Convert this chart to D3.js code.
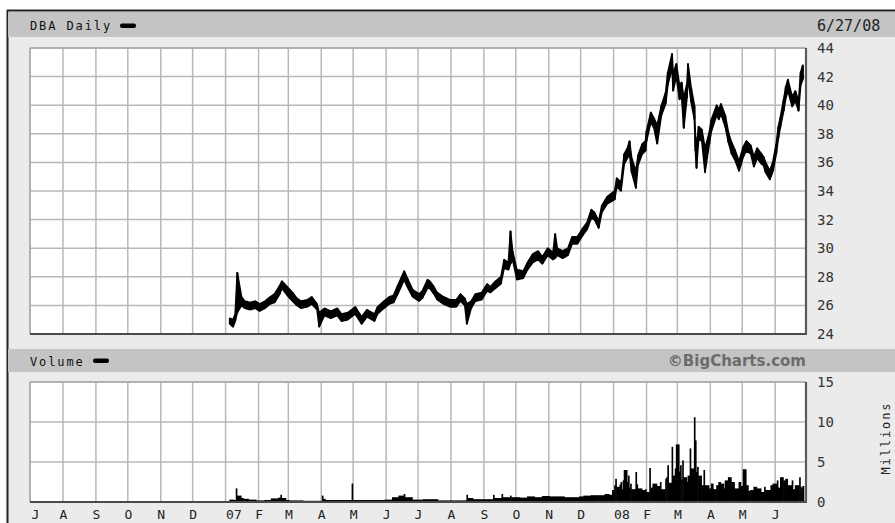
<!DOCTYPE html>
<html><head><meta charset="utf-8">
<script src="https://cdn.jsdelivr.net/npm/d3@7/dist/d3.min.js"></script>
<style>
html,body{margin:0;padding:0;background:#fff;}
svg{display:block;}
</style></head>
<body><svg id="c" width="895" height="523"></svg>
<script>
// ---------- DATA ----------
const chartTitle = "DBA Daily";
const chartDate = "6/27/08";
const volumeTitle = "Volume";
const creditText = "\u00A9BigCharts.com";
const volumeUnit = "Millions";
const monthLabels = ["J","A","S","O","N","D","07","F","M","A","M","J","J","A","S","O","N","D","08","F","M","A","M","J"];
const priceTicks = [24,26,28,30,32,34,36,38,40,42,44];
const volumeTicks = [0,5,10,15];

const priceDates = ["2007-01-05","2007-01-08","2007-01-10","2007-01-12","2007-01-16","2007-01-19","2007-01-24","2007-01-29","2007-02-02","2007-02-07","2007-02-12","2007-02-16","2007-02-21","2007-02-23","2007-02-28","2007-03-05","2007-03-09","2007-03-13","2007-03-19","2007-03-23","2007-03-28","2007-03-30","2007-04-04","2007-04-10","2007-04-16","2007-04-20","2007-04-26","2007-05-03","2007-05-09","2007-05-14","2007-05-21","2007-05-24","2007-05-30","2007-06-04","2007-06-08","2007-06-12","2007-06-15","2007-06-18","2007-06-21","2007-06-26","2007-07-02","2007-07-05","2007-07-10","2007-07-12","2007-07-16","2007-07-19","2007-07-25","2007-07-31","2007-08-06","2007-08-10","2007-08-14","2007-08-16","2007-08-20","2007-08-24","2007-08-30","2007-09-04","2007-09-07","2007-09-12","2007-09-17","2007-09-20","2007-09-24","2007-09-26","2007-09-28","2007-10-02","2007-10-08","2007-10-12","2007-10-17","2007-10-22","2007-10-26","2007-10-31","2007-11-05","2007-11-07","2007-11-09","2007-11-14","2007-11-19","2007-11-23","2007-11-28","2007-12-03","2007-12-07","2007-12-11","2007-12-14","2007-12-18","2007-12-21","2007-12-26","2008-01-02","2008-01-04","2008-01-08","2008-01-11","2008-01-14","2008-01-16","2008-01-18","2008-01-22","2008-01-24","2008-01-28","2008-01-31","2008-02-01","2008-02-05","2008-02-08","2008-02-11","2008-02-15","2008-02-19","2008-02-21","2008-02-25","2008-02-26","2008-02-29","2008-03-03","2008-03-05","2008-03-07","2008-03-10","2008-03-11","2008-03-14","2008-03-17","2008-03-18","2008-03-19","2008-03-21","2008-03-24","2008-03-27","2008-03-31","2008-04-02","2008-04-07","2008-04-09","2008-04-11","2008-04-15","2008-04-18","2008-04-21","2008-04-24","2008-04-28","2008-05-02","2008-05-05","2008-05-09","2008-05-12","2008-05-15","2008-05-19","2008-05-21","2008-05-23","2008-05-27","2008-05-30","2008-06-02","2008-06-04","2008-06-06","2008-06-09","2008-06-11","2008-06-13","2008-06-17","2008-06-20","2008-06-23","2008-06-25","2008-06-27"];
const priceLows = [24.7,24.5,24.9,25.5,26.0,25.8,25.7,25.8,25.6,25.8,26.1,26.2,26.8,27.2,26.7,26.3,26.0,25.8,25.9,26.1,25.7,24.5,25.3,25.1,25.3,24.9,25.0,25.4,24.7,25.2,24.9,25.4,25.8,26.1,26.2,26.8,27.3,27.8,27.3,26.6,26.3,26.5,27.2,27.2,26.8,26.4,26.1,25.9,25.9,26.3,26.0,24.7,25.8,26.3,26.4,27.0,26.9,27.2,27.5,28.6,28.5,28.9,29.2,27.8,27.9,28.5,29.0,29.2,28.9,29.5,29.2,29.3,29.5,29.3,29.5,30.3,30.3,30.9,31.3,32.1,32.0,31.4,32.5,33.1,33.4,34.3,34.0,35.9,36.3,36.6,35.3,34.2,35.8,36.6,36.8,37.5,38.8,38.4,37.3,39.3,40.1,41.4,42.6,41.0,42.0,40.4,40.6,38.4,40.5,41.9,40.2,39.0,36.8,35.6,37.6,37.5,35.3,37.3,38.2,39.3,39.0,39.4,38.5,37.4,36.6,36.2,35.4,36.4,36.8,36.6,35.7,36.3,35.9,35.8,35.3,34.8,35.4,36.6,37.7,38.5,39.6,40.5,41.0,39.9,40.3,39.6,41.4,41.8];
const priceHighs = [25.1,25.0,25.4,28.3,26.6,26.3,26.2,26.3,26.1,26.3,26.6,26.8,27.4,27.7,27.3,26.9,26.5,26.3,26.4,26.6,26.1,25.5,25.8,25.6,25.8,25.4,25.5,25.9,25.2,25.7,25.4,25.9,26.3,26.6,26.7,27.4,27.9,28.4,27.9,27.1,26.8,27.0,27.8,27.7,27.3,26.9,26.6,26.4,26.4,26.8,26.5,26.1,26.3,26.8,26.9,27.5,27.3,27.7,28.0,29.2,29.0,31.2,29.8,28.5,28.4,29.0,29.6,29.8,29.4,30.0,29.7,31.0,30.0,29.8,30.0,30.8,30.8,31.4,31.8,32.7,32.5,31.9,33.0,33.6,34.0,34.9,34.6,36.6,37.0,37.5,36.3,35.4,36.5,37.3,37.5,38.2,39.5,39.1,38.6,40.0,40.9,42.3,43.6,42.2,42.9,41.4,41.6,40.5,41.5,42.9,41.2,40.0,37.8,37.0,38.5,38.3,37.0,38.1,39.0,40.0,39.7,40.1,39.3,38.1,37.4,36.9,36.1,37.1,37.5,37.2,36.4,37.0,36.6,36.4,36.0,35.4,36.1,37.3,38.5,39.2,40.4,41.3,41.8,40.6,41.0,40.3,42.3,42.8];

const volumeDates = ["2007-01-05","2007-01-09","2007-01-11","2007-01-12","2007-01-16","2007-01-18","2007-01-23","2007-01-30","2007-02-07","2007-02-13","2007-02-20","2007-02-22","2007-02-23","2007-02-27","2007-03-02","2007-03-15","2007-03-29","2007-04-02","2007-04-03","2007-04-05","2007-04-20","2007-04-30","2007-05-01","2007-05-15","2007-05-31","2007-06-07","2007-06-13","2007-06-18","2007-06-19","2007-06-26","2007-07-06","2007-07-12","2007-07-20","2007-08-01","2007-08-15","2007-08-16","2007-08-17","2007-08-22","2007-09-06","2007-09-10","2007-09-11","2007-09-18","2007-09-19","2007-09-26","2007-09-27","2007-10-05","2007-10-12","2007-10-19","2007-10-26","2007-11-02","2007-11-09","2007-11-16","2007-11-23","2007-11-30","2007-12-04","2007-12-11","2007-12-18","2007-12-24","2007-12-28","2007-12-31","2008-01-02","2008-01-03","2008-01-04","2008-01-07","2008-01-08","2008-01-09","2008-01-10","2008-01-11","2008-01-14","2008-01-15","2008-01-16","2008-01-17","2008-01-18","2008-01-22","2008-01-23","2008-01-24","2008-01-28","2008-01-31","2008-02-01","2008-02-04","2008-02-05","2008-02-07","2008-02-11","2008-02-14","2008-02-15","2008-02-19","2008-02-20","2008-02-21","2008-02-22","2008-02-25","2008-02-26","2008-02-28","2008-02-29","2008-03-03","2008-03-04","2008-03-05","2008-03-06","2008-03-07","2008-03-10","2008-03-11","2008-03-13","2008-03-14","2008-03-17","2008-03-18","2008-03-19","2008-03-20","2008-03-21","2008-03-24","2008-03-26","2008-03-27","2008-03-31","2008-04-02","2008-04-04","2008-04-07","2008-04-09","2008-04-11","2008-04-14","2008-04-15","2008-04-18","2008-04-21","2008-04-24","2008-04-28","2008-04-30","2008-05-02","2008-05-05","2008-05-07","2008-05-09","2008-05-12","2008-05-15","2008-05-19","2008-05-22","2008-05-23","2008-05-28","2008-05-30","2008-06-03","2008-06-04","2008-06-06","2008-06-09","2008-06-11","2008-06-13","2008-06-17","2008-06-18","2008-06-20","2008-06-24","2008-06-25","2008-06-26","2008-06-27"];
const volumeValues = [0.3,0.25,1.7,0.8,0.5,0.4,0.3,0.2,0.25,0.45,0.55,0.9,0.5,0.25,0.2,0.15,0.15,0.8,0.4,0.25,0.25,2.3,0.25,0.25,0.3,0.6,0.8,1.0,0.6,0.3,0.35,0.35,0.2,0.2,0.2,0.9,0.5,0.35,0.35,0.9,0.5,1.0,0.6,0.8,0.6,0.55,0.7,0.6,0.75,0.7,0.7,0.6,0.6,0.7,0.8,0.85,0.85,1.0,0.9,1.5,2.1,2.9,1.9,2.2,2.5,1.6,2.7,4.0,2.5,3.3,1.8,2.3,1.6,3.75,2.2,1.7,1.5,1.6,1.25,4.25,1.8,2.3,2.0,2.5,1.6,2.9,3.1,4.6,2.4,6.9,3.3,4.2,7.2,3.8,4.6,2.8,5.2,3.1,2.5,3.3,6.7,4.2,10.6,7.7,3.75,4.4,3.3,2.1,4.0,2.1,1.7,2.3,1.6,2.1,2.5,2.3,1.7,2.7,3.1,2.5,1.7,2.5,2.0,4.1,2.1,1.4,1.5,1.9,1.7,1.25,1.9,1.5,2.1,2.3,2.7,1.8,3.1,2.7,2.9,2.1,2.7,1.6,2.1,3.1,1.9,1.7,2.0];

// ---------- LAYOUT ----------
const svg = d3.select("#c");
const parse = d3.timeParse("%Y-%m-%d");
const L = 30, R = 806;
const x = d3.scaleTime().domain([new Date(2006,6,1), new Date(2008,5,30)]).range([L, R]);
const yP = d3.scaleLinear().domain([24,44]).range([334,48]);
const yV = d3.scaleLinear().domain([0,15]).range([502,382]);
const months = d3.timeMonth.range(new Date(2006,6,1), new Date(2008,6,1));

const mono = "'DejaVu Sans Mono', monospace";
const bandCol = "#c4c4c4", bgCol = "#ebebeb", gridCol = "#b8b8b8";

svg.append("rect").attr("width",895).attr("height",523).attr("fill","#fff");
svg.append("rect").attr("x",7).attr("y",10).attr("width",890).attr("height",515).attr("fill",bgCol);
svg.append("line").attr("x1",7).attr("x2",895).attr("y1",10.5).attr("y2",10.5).attr("stroke","#222").attr("stroke-width",2);
svg.append("line").attr("x1",7.5).attr("x2",7.5).attr("y1",10).attr("y2",523).attr("stroke","#222").attr("stroke-width",2);

// header bands
svg.append("rect").attr("x",8).attr("y",12).attr("width",887).attr("height",25).attr("fill",bandCol);
svg.append("rect").attr("x",8).attr("y",349).attr("width",887).attr("height",23).attr("fill",bandCol);

function bandLabel(txt, yBase, dashX, dashY){
  svg.append("text").attr("x",30).attr("y",yBase).text(txt)
    .attr("font-family",mono).attr("font-size",12).attr("letter-spacing",1.9).attr("fill","#111");
  svg.append("rect").attr("x",dashX).attr("y",dashY).attr("width",16).attr("height",4.5).attr("rx",2).attr("fill","#000");
}
bandLabel(chartTitle, 30, 120, 23.5);
bandLabel(volumeTitle, 366, 93, 358.5);
svg.append("text").attr("x",817).attr("y",31).text(chartDate)
  .attr("font-family",mono).attr("font-size",15).attr("fill","#222");
svg.append("text").attr("x",806).attr("y",366).attr("text-anchor","end").text(creditText)
  .attr("font-family","'DejaVu Sans', sans-serif").attr("font-weight","bold").attr("font-size",15).attr("fill","#6c6c6c");

// plot panels
function panel(y0, y1, yScale, ticks){
  svg.append("rect").attr("x",L).attr("y",y0).attr("width",R-L).attr("height",y1-y0).attr("fill","#fff");
  const g = svg.append("g");
  g.selectAll("line.v").data(months).join("line")
    .attr("x1",d=>x(d)).attr("x2",d=>x(d)).attr("y1",y0).attr("y2",y1)
    .attr("stroke",gridCol).attr("stroke-width",1.5);
  g.selectAll("line.h").data(ticks).join("line")
    .attr("x1",L).attr("x2",R).attr("y1",d=>yScale(d)).attr("y2",d=>yScale(d))
    .attr("stroke",gridCol).attr("stroke-width",1.5);
  // light top/left edges, dark bottom/right edges
  svg.append("line").attr("x1",L).attr("x2",R).attr("y1",y0).attr("y2",y0).attr("stroke","#a8a8a8").attr("stroke-width",1.5);
  svg.append("line").attr("x1",L).attr("x2",L).attr("y1",y0).attr("y2",y1).attr("stroke","#a8a8a8").attr("stroke-width",1.5);
  return g;
}
panel(48,334,yP,priceTicks);
panel(382,502,yV,volumeTicks);

// price bars
const pData = priceDates.map((d,i)=>({d:parse(d), lo:priceLows[i], hi:priceHighs[i]}));
const gp = svg.append("g");
gp.append("path").datum(pData)
  .attr("d", d3.area().x(p=>x(p.d)).y0(p=>yP(p.lo)).y1(p=>yP(p.hi)))
  .attr("fill","#000").attr("stroke","#000").attr("stroke-width",1.6).attr("stroke-linejoin","round");
gp.selectAll("line").data(pData).join("line")
  .attr("x1",p=>x(p.d)).attr("x2",p=>x(p.d)).attr("y1",p=>yP(p.lo)).attr("y2",p=>yP(p.hi))
  .attr("stroke","#000").attr("stroke-width",2);

// volume bars
const vData = volumeDates.map((d,i)=>({d:parse(d), v:volumeValues[i]}));
const gv = svg.append("g");
gv.selectAll("rect").data(vData).join("rect")
  .attr("x",(p,i)=>x(p.d)-0.5)
  .attr("width",(p,i)=> i<vData.length-1 ? Math.max(1.4, x(vData[i+1].d)-x(p.d)+0.6) : 2)
  .attr("y",p=>yV(p.v)).attr("height",p=>yV(0)-yV(p.v)).attr("fill","#000");

// dark bottom/right edges
[[48,334],[382,502]].forEach(([y0,y1])=>{
  svg.append("line").attr("x1",L).attr("x2",R+1).attr("y1",y1).attr("y2",y1).attr("stroke","#4a4a4a").attr("stroke-width",2.2);
  svg.append("line").attr("x1",R).attr("x2",R).attr("y1",y0).attr("y2",y1).attr("stroke","#5a5a5a").attr("stroke-width",2.2);
});

// axes
function rightAxis(scale, ticks){
  const ax = d3.axisRight(scale).tickValues(ticks).tickSize(0).tickPadding(0).tickFormat(d3.format("d"));
  const g = svg.append("g").attr("transform","translate(817,0)").call(ax);
  g.select(".domain").remove();
  g.selectAll("text").attr("font-family",mono).attr("font-size",14).attr("fill","#333").attr("x",0);
}
rightAxis(yP, priceTicks);
rightAxis(yV, volumeTicks);

const bx = d3.axisBottom(x).tickValues(months).tickSize(0).tickPadding(5)
  .tickFormat((d,i)=>monthLabels[i]);
const gx = svg.append("g").attr("transform","translate(0,505)").call(bx);
gx.select(".domain").remove();
gx.selectAll("text").attr("font-family",mono).attr("font-size",13).attr("fill","#222")
  .attr("text-anchor",(d,i)=> (i===0 || monthLabels[i].length>1) ? "start" : "middle")
  .attr("dx",(d,i)=> monthLabels[i].length>1 ? 0 : (i===0?1:0));

svg.append("text").attr("transform","translate(890,438) rotate(-90)").attr("text-anchor","middle")
  .text(volumeUnit).attr("font-family",mono).attr("font-size",12).attr("letter-spacing",1.9).attr("fill","#222");
</script></body></html>
